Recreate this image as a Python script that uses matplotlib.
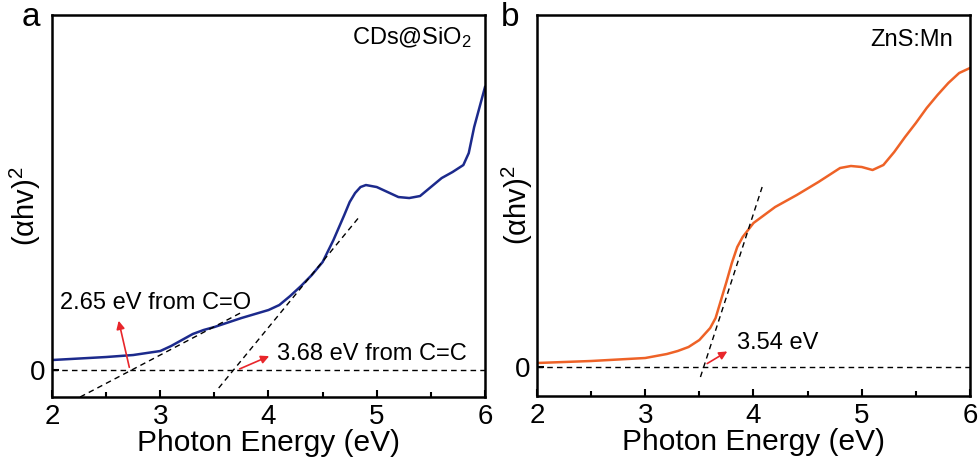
import matplotlib
matplotlib.use('Agg')
import matplotlib.pyplot as plt
import numpy as np

plt.rcParams['font.family'] = ['Liberation Sans', 'DejaVu Sans']
plt.rcParams['mathtext.fontset'] = 'custom'
plt.rcParams['mathtext.rm'] = 'Liberation Sans'
plt.rcParams['mathtext.it'] = 'Liberation Sans'

# panel a: CDs@SiO2 (arbitrary units, 0 = baseline)
energy_a = [2.0, 2.25, 2.5, 2.75, 3.0, 3.1, 3.2, 3.3, 3.4, 3.5, 3.75, 4.0, 4.1, 4.2, 4.3,
            4.4, 4.5, 4.6, 4.7, 4.75, 4.8, 4.85, 4.9, 5.0, 5.1, 5.2, 5.3, 5.4, 5.5, 5.6, 5.7, 5.8,
            5.85, 5.9, 5.95, 6.0]
absorb_a = [0.10, 0.115, 0.13, 0.15, 0.19, 0.24, 0.30, 0.36, 0.40, 0.43, 0.52, 0.60, 0.65,
            0.74, 0.84, 0.95, 1.08, 1.30, 1.55, 1.68, 1.77, 1.83, 1.85, 1.83, 1.78, 1.73, 1.72, 1.74,
            1.83, 1.92, 1.98, 2.05, 2.17, 2.43, 2.63, 2.83]
tangent_a1 = ([2.26, 3.74], [-0.27, 0.57])
tangent_a2 = ([3.54, 4.83], [-0.18, 1.52])

# panel b: ZnS:Mn
energy_b = [2.0, 2.5, 3.0, 3.2, 3.3, 3.4, 3.5, 3.6, 3.65, 3.7, 3.75, 3.8, 3.85, 3.9, 4.0,
            4.1, 4.2, 4.4, 4.6, 4.8, 4.9, 5.0, 5.1, 5.2, 5.3, 5.4, 5.5, 5.6, 5.7, 5.8,
            5.9, 6.0]
absorb_b = [0.04, 0.06, 0.09, 0.13, 0.16, 0.20, 0.27, 0.39, 0.49, 0.67, 0.85, 1.04, 1.20,
            1.30, 1.44, 1.52, 1.60, 1.72, 1.85, 1.99, 2.01, 2.00, 1.97, 2.02, 2.15, 2.30,
            2.44, 2.59, 2.72, 2.84, 2.94, 2.99]
tangent_b = ([3.51, 4.08], [-0.10, 1.80])

blue = '#1c2a8c'
orange = '#ee6227'
red = '#e8262b'

fig = plt.figure(figsize=(9.79, 4.63), dpi=100)
ax1 = fig.add_axes([0.0531, 0.1425, 0.4423, 0.825])
ax2 = fig.add_axes([0.5485, 0.1447, 0.4423, 0.8229])

def style(ax, ymin, ymax, labelx):
    ax.set_xlim(2, 6)
    ax.set_ylim(ymin, ymax)
    ax.set_xticks([2, 3, 4, 5, 6])
    ax.set_xticks([2.5, 3.5, 4.5, 5.5], minor=True)
    ax.set_yticks([0])
    ax.tick_params(direction='in', which='major', length=5, width=1.5, labelsize=20, pad=5)
    ax.tick_params(direction='in', which='minor', length=3.5, width=1.5)
    for s in ax.spines.values():
        s.set_linewidth(1.8)
    ax.axhline(0, color='black', lw=1, ls=(0, (4, 3)))
    ax.set_xlabel('Photon Energy (eV)', fontsize=21.5, labelpad=-1)
    ax.set_ylabel('(αhv)$^2$', fontsize=21, va='center')
    ax.yaxis.set_label_coords(labelx, 0.5)

style(ax1, -0.27, 3.55, -0.062)
ax1.plot(energy_a, absorb_a, color=blue, lw=1.8)
ax1.plot(*tangent_a1, color='black', lw=1, ls=(0, (4, 3)))
ax1.plot(*tangent_a2, color='black', lw=1, ls=(0, (4, 3)))
ax1.annotate('', xy=(2.61, 0.52), xytext=(2.72, 0.0),
             arrowprops=dict(arrowstyle='-|>', color=red, lw=1.2, mutation_scale=12))
ax1.annotate('', xy=(4.03, 0.15), xytext=(3.71, 0.0),
             arrowprops=dict(arrowstyle='-|>', color=red, lw=1.2, mutation_scale=12))
ax1.text(2.07, 0.67, '2.65 eV from C=O', fontsize=17, va='center')
ax1.text(4.08, 0.16, '3.68 eV from C=C', fontsize=17, va='center')
ax1.text(0.97, 0.94, 'CDs@SiO$_2$', transform=ax1.transAxes, fontsize=17, ha='right', va='center')

style(ax2, -0.29, 3.52, -0.045)
ax2.plot(energy_b, absorb_b, color=orange, lw=1.8)
ax2.plot(*tangent_b, color='black', lw=1, ls=(0, (4, 3)))
ax2.annotate('', xy=(3.78, 0.17), xytext=(3.55, 0.02),
             arrowprops=dict(arrowstyle='-|>', color=red, lw=1.2, mutation_scale=12))
ax2.text(3.85, 0.24, '3.54 eV', fontsize=17, va='center')
ax2.text(0.96, 0.935, 'ZnS:Mn', transform=ax2.transAxes, fontsize=17, ha='right', va='center')

fig.text(0.022, 0.962, 'a', fontsize=24, va='center')
fig.text(0.512, 0.962, 'b', fontsize=24, va='center')

fig.savefig('out.png', dpi=100)
